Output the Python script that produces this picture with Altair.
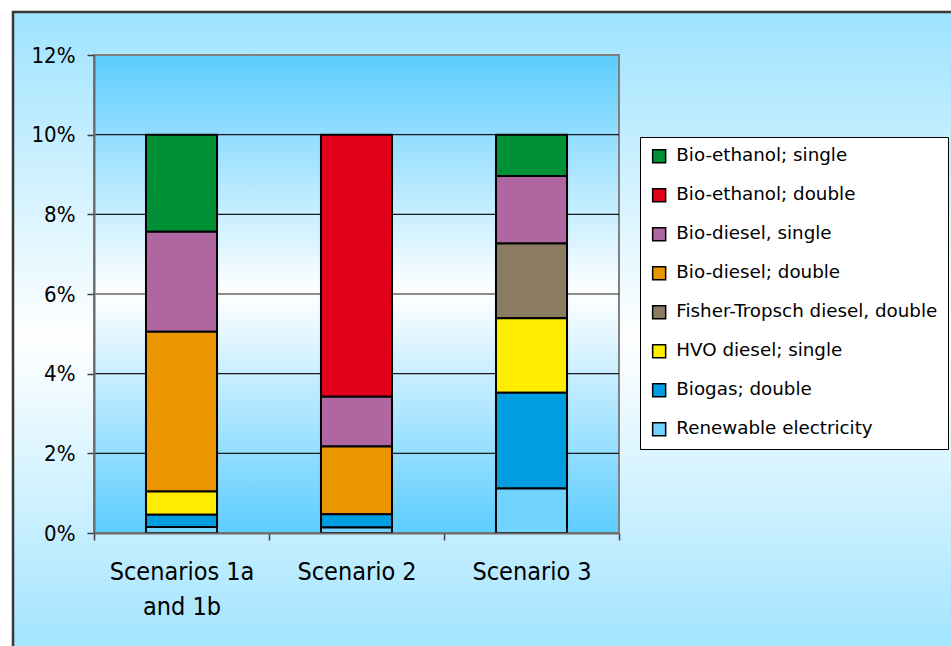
import altair as alt
import pandas as pd

# Scenario categories (x axis)
scenarios = ["Scenarios 1a and 1b", "Scenario 2", "Scenario 3"]

# Fuel types, listed from the top of each stack down (legend order)
fuels = [
    "Bio-ethanol; single",
    "Bio-ethanol; double",
    "Bio-diesel, single",
    "Bio-diesel; double",
    "Fisher-Tropsch diesel, double",
    "HVO diesel; single",
    "Biogas; double",
    "Renewable electricity",
]
fuel_colors = ["#009036", "#e2001a", "#b066a0", "#eb9500",
               "#8b7b63", "#ffed00", "#009ee0", "#70d4ff"]

# Share of renewable energy (%) per scenario, one list per fuel
bio_ethanol_single = [2.44, 0.00, 1.04]
bio_ethanol_double = [0.00, 6.58, 0.00]
bio_diesel_single = [2.51, 1.25, 1.69]
bio_diesel_double = [4.01, 1.70, 0.00]
fischer_tropsch_double = [0.00, 0.00, 1.88]
hvo_single = [0.58, 0.00, 1.87]
biogas_double = [0.31, 0.33, 2.40]
renewable_electricity = [0.15, 0.14, 1.12]

series = [bio_ethanol_single, bio_ethanol_double, bio_diesel_single,
          bio_diesel_double, fischer_tropsch_double, hvo_single,
          biogas_double, renewable_electricity]

y_ticks = [0, 2, 4, 6, 8, 10, 12]
grid_values = [2, 4, 6, 8, 10]

rows = []
for i, (fuel, vals) in enumerate(zip(fuels, series)):
    for scen, v in zip(scenarios, vals):
        if v > 0:
            # stack rank: renewable electricity at the bottom
            rows.append({"scenario": scen, "fuel": fuel, "share": v,
                         "rank": len(fuels) - i})
df = pd.DataFrame(rows)

W, H = 525, 478
AXIS_FONT = "DejaVu Sans Condensed, Lato"
LEGEND_FONT = "DejaVu Sans"

one_row = pd.DataFrame({"k": [0]})

plot_gradient = alt.LinearGradient(
    gradient="linear", x1=0, y1=0, x2=0, y2=1,
    stops=[alt.GradientStop(offset=0, color="#5ccdff"),
           alt.GradientStop(offset=0.5, color="#ffffff"),
           alt.GradientStop(offset=1, color="#5ccdff")])

outer_gradient = alt.LinearGradient(
    gradient="linear", x1=0, y1=0, x2=0, y2=1,
    stops=[alt.GradientStop(offset=0, color="#9ee3ff"),
           alt.GradientStop(offset=0.5, color="#ffffff"),
           alt.GradientStop(offset=1, color="#9ee3ff")])

# Framed chart panel behind everything
outer = alt.Chart(one_row).mark_rect(
    color=outer_gradient, stroke="#383838", strokeWidth=2.5
).encode(x=alt.value(-81), x2=alt.value(W + 340),
         y=alt.value(-43), y2=alt.value(H + 130))

# Plot area background
plot_bg = alt.Chart(one_row).mark_rect(
    color=plot_gradient, stroke="#808080", strokeWidth=2
).encode(x=alt.value(0), x2=alt.value(W), y=alt.value(0), y2=alt.value(H))

y_scale = alt.Scale(domain=[0, 12], nice=False, zero=True)
y_axis = alt.Axis(
    values=y_ticks, labelExpr="datum.value + '%'", title=None, grid=False,
    tickSize=7, tickColor="#404040", tickWidth=1.5,
    domainColor="#6a6a6a", domainWidth=2,
    labelFont=AXIS_FONT, labelFontSize=22, labelColor="#000000",
    labelPadding=12, zindex=1)

grid = alt.Chart(pd.DataFrame({"g": grid_values})).mark_rule(
    color="#1a1a1a", strokeWidth=1.2
).encode(y=alt.Y("g:Q", scale=y_scale, axis=y_axis))

bars = alt.Chart(df).mark_bar(
    width=alt.RelativeBandSize(0.406), stroke="#000000", strokeWidth=2
).encode(
    x=alt.X("scenario:N", sort=scenarios,
            scale=alt.Scale(paddingInner=0, paddingOuter=0),
            axis=alt.Axis(
                title=None, labelAngle=0, tickBand="extent", grid=False,
                tickSize=7, tickColor="#404040", tickWidth=1.5,
                domainColor="#6a6a6a", domainWidth=2,
                labelFont=AXIS_FONT, labelFontSize=25, labelColor="#000000",
                labelPadding=19, labelLineHeight=35,
                labelExpr="datum.label == 'Scenarios 1a and 1b' ? ['Scenarios 1a', 'and 1b'] : datum.label",
                zindex=1)),
    y=alt.Y("share:Q", stack="zero", scale=y_scale, axis=y_axis),
    color=alt.Color("fuel:N", scale=alt.Scale(domain=fuels, range=fuel_colors),
                    legend=alt.Legend(
                        title=None, orient="none", legendX=546, legendY=82,
                        fillColor="#ffffff", strokeColor="#000000",
                        padding=10, rowPadding=19, labelLimit=400,
                        symbolType="square", symbolSize=169,
                        symbolStrokeColor="#000000", symbolStrokeWidth=1.5,
                        labelFont=LEGEND_FONT, labelFontSize=18.3,
                        labelColor="#000000", labelOffset=8)),
    order=alt.Order("rank:Q", sort="ascending"),
)

chart = alt.layer(outer, plot_bg, grid, bars).properties(
    width=W, height=H,
    autosize=alt.AutoSizeParams(type="none"),
    padding={"left": 94, "top": 55, "right": 332, "bottom": 113},
    background="#ffffff",
).configure_view(stroke=None)

chart.save("out.html", embed_options={"renderer": "svg", "actions": False})
